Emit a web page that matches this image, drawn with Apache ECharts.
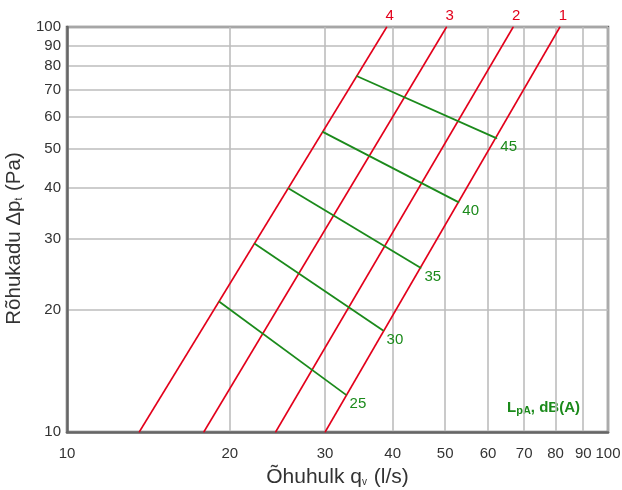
<!DOCTYPE html>
<html>
<head>
<meta charset="utf-8">
<script src="https://cdn.jsdelivr.net/npm/echarts@6/dist/echarts.min.js"></script>
<style>
html,body{margin:0;padding:0;background:#fff;}
#chart{width:622px;height:490px;}
</style>
</head>
<body>
<div id="chart"></div>
<script>
// Tick values (both axes, log scale)
const tickValues = [10, 20, 30, 40, 50, 60, 70, 80, 90, 100];

// Red system lines: flow at 10 Pa and at 100 Pa
const lineNames = ['1', '2', '3', '4'];
const lineP = [10, 100];
const lineQAt10 = [30.0, 24.3, 17.9, 13.6];
const lineQAt100 = [81.5, 66.8, 50.3, 39.0];

// Green sound level lines (start on line 4, end on line 1)
const soundLevels = ['25', '30', '35', '40', '45'];
const soundStartQ = [19.1, 22.2, 25.65, 29.7, 34.3];
const soundStartP = [21.0, 29.2, 40.0, 55.1, 75.7];
const soundEndQ = [32.8, 38.4, 45.1, 53.0, 62.3];
const soundEndP = [12.35, 17.8, 25.4, 36.9, 53.1];

const RED = '#e3001b';
const GREEN = '#1b8a1b';
const FONT = '"Liberation Sans", Arial, sans-serif';

const series = [];
lineNames.forEach((n, i) => {
  series.push({
    type: 'line',
    name: 'line' + n,
    symbol: 'circle',
    symbolSize: 1,
    itemStyle: { color: RED },
    lineStyle: { color: RED, width: 1.6 },
    z: 3,
    silent: true,
    data: [
      { value: [lineQAt10[i], lineP[0]], label: { show: false } },
      { value: [lineQAt100[i], lineP[1]], label: {
          show: true, position: 'top', distance: 3, offset: [3, 0],
          formatter: n, color: RED, fontSize: 15, fontFamily: FONT } }
    ]
  });
});
soundLevels.forEach((n, i) => {
  series.push({
    type: 'line',
    name: 'snd' + n,
    symbol: 'circle',
    symbolSize: 1,
    itemStyle: { color: GREEN },
    lineStyle: { color: GREEN, width: 1.8 },
    z: 4,
    silent: true,
    data: [
      { value: [soundStartQ[i], soundStartP[i]], label: { show: false } },
      { value: [soundEndQ[i], soundEndP[i]], label: {
          show: true, position: 'right', distance: 5, offset: [-2, 9],
          formatter: n, color: GREEN, fontSize: 15, fontFamily: FONT } }
    ]
  });
});

const chart = echarts.init(document.getElementById('chart'), null, { renderer: 'canvas' });
chart.setOption({
  animation: false,
  backgroundColor: '#fff',
  textStyle: { fontFamily: FONT },
  grid: {
    left: 67, top: 27, right: 14, bottom: 58,
    outerBoundsMode: 'none', containLabel: false,
    show: true, borderColor: '#666', borderWidth: 2.5, backgroundColor: 'transparent'
  },
  xAxis: {
    type: 'log', logBase: 10, min: 10, max: 100,
    name: 'Õhuhulk q{sub|v} (l/s)',
    nameLocation: 'middle', nameGap: 35,
    nameTextStyle: {
      color: '#333', fontSize: 21, fontFamily: FONT,
      rich: { sub: { fontSize: 10, color: '#333', fontFamily: FONT, padding: [10, 1, 0, 0] } }
    },
    axisLine: { show: true, lineStyle: { color: '#666', width: 2.5 } },
    axisTick: { show: false, customValues: tickValues },
    axisLabel: { customValues: tickValues, color: '#333', fontSize: 15, margin: 14, fontFamily: FONT },
    splitLine: { show: true, lineStyle: { color: '#bdbdbd', width: 1.6 } }
  },
  yAxis: {
    type: 'log', logBase: 10, min: 10, max: 100,
    name: 'Rõhukadu Δp{sub|t} (Pa)',
    nameLocation: 'middle', nameGap: 37, nameRotate: 90,
    nameTextStyle: {
      color: '#333', fontSize: 20.5, fontFamily: FONT, padding: [0, 18, 0, 0],
      rich: { sub: { fontSize: 10, color: '#333', fontFamily: FONT, padding: [10, 1, 0, 0] } }
    },
    axisLine: { show: true, lineStyle: { color: '#666', width: 2.5 } },
    axisTick: { show: false, customValues: tickValues },
    axisLabel: { customValues: tickValues, color: '#333', fontSize: 15, margin: 6, fontFamily: FONT },
    splitLine: { show: true, lineStyle: { color: '#bdbdbd', width: 1.6 } }
  },
  graphic: [{
    type: 'text',
    left: 507, top: 400,
    style: {
      text: '{b|L}{s|pA}{b|, dB(A)}',
      rich: {
        b: { fontSize: 15, fontWeight: 'bold', fill: GREEN, fontFamily: FONT },
        s: { fontSize: 11, fontWeight: 'bold', fill: GREEN, fontFamily: FONT, padding: [7, 0, 0, 0] }
      }
    }
  }],
  series: series
});
</script>
</body>
</html>
